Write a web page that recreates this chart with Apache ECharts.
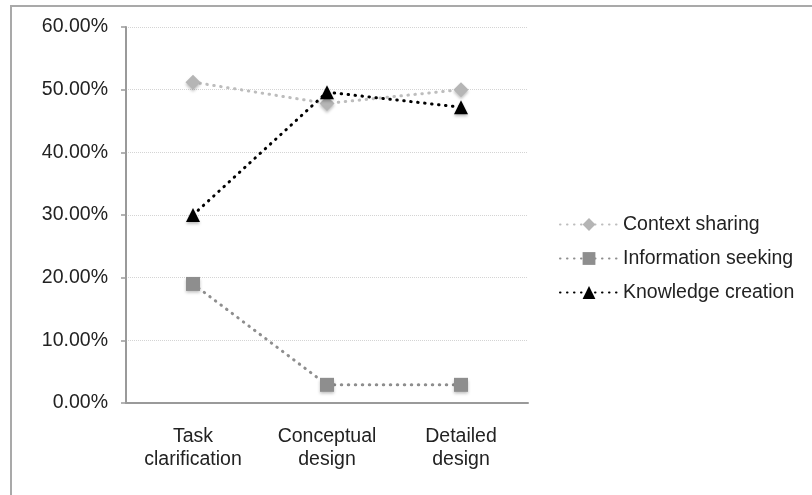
<!DOCTYPE html>
<html>
<head>
<meta charset="utf-8">
<script src="https://cdn.jsdelivr.net/npm/echarts@6/dist/echarts.min.js"></script>
<style>
html,body{margin:0;padding:0;background:#fff;}
#chart{width:812px;height:495px;}
</style>
</head>
<body>
<div id="chart"></div>
<script>
const categories = ['Task\nclarification', 'Conceptual\ndesign', 'Detailed\ndesign'];
const contextSharing = [51.2, 47.8, 50.0];
const informationSeeking = [19.0, 2.9, 2.9];
const knowledgeCreation = [30.0, 49.6, 47.2];
const seriesNames = ['Context sharing', 'Information seeking', 'Knowledge creation'];

const font = '"Liberation Sans", Arial, Helvetica, sans-serif';
const chart = echarts.init(document.getElementById('chart'), null, {renderer: 'canvas'});

function mk(name, data, color, lineColor, symbol, size) {
  return {
    name: name, type: 'line', data: data,
    symbol: symbol, symbolSize: size,
    lineStyle: {color: lineColor, width: 3, type: [0.5, 6.5], cap: 'round'},
    itemStyle: {color: color, shadowBlur: 3, shadowColor: 'rgba(0,0,0,0.25)', shadowOffsetY: 2},
    emphasis: {disabled: true},
    animation: false
  };
}

chart.setOption({
  animation: false,
  graphic: [{
    type: 'rect', shape: {x: 11, y: 6, width: 830, height: 520},
    style: {fill: 'none', stroke: '#a9a9a9', lineWidth: 2}, silent: true
  }],
  grid: {left: 126, right: 284, top: 27, bottom: 92},
  legend: {
    orient: 'vertical', left: 554, top: 209, itemGap: 13,
    itemWidth: 58, itemHeight: 16,
    textStyle: {fontFamily: font, fontSize: 19.5, color: '#222', lineHeight: 21},
    data: seriesNames
  },
  xAxis: {
    type: 'category', data: categories, boundaryGap: true,
    axisLine: {lineStyle: {color: '#9a9a9a', width: 2}},
    axisTick: {lineStyle: {color: '#9a9a9a', width: 1.5}, length: 5},
    axisLabel: {fontFamily: font, fontSize: 19.5, color: '#222', lineHeight: 23, margin: 22}
  },
  yAxis: {
    type: 'value', min: 0, max: 60, interval: 10,
    axisLine: {show: true, lineStyle: {color: '#9a9a9a', width: 2}},
    axisTick: {show: true, lineStyle: {color: '#9a9a9a', width: 1.5}, length: 5},
    axisLabel: {fontFamily: font, fontSize: 19.5, color: '#222', margin: 18,
      formatter: v => v.toFixed(2) + '%'},
    splitLine: {lineStyle: {color: '#d4d4d4', width: 1, type: 'dotted'}}
  },
  series: [
    mk(seriesNames[0], contextSharing, '#b5b5b5', '#bdbdbd', 'diamond', 15),
    mk(seriesNames[1], informationSeeking, '#8e8e8e', '#8e8e8e', 'rect', 14),
    mk(seriesNames[2], knowledgeCreation, '#000000', '#000000', 'triangle', 14)
  ]
});
</script>
</body>
</html>
